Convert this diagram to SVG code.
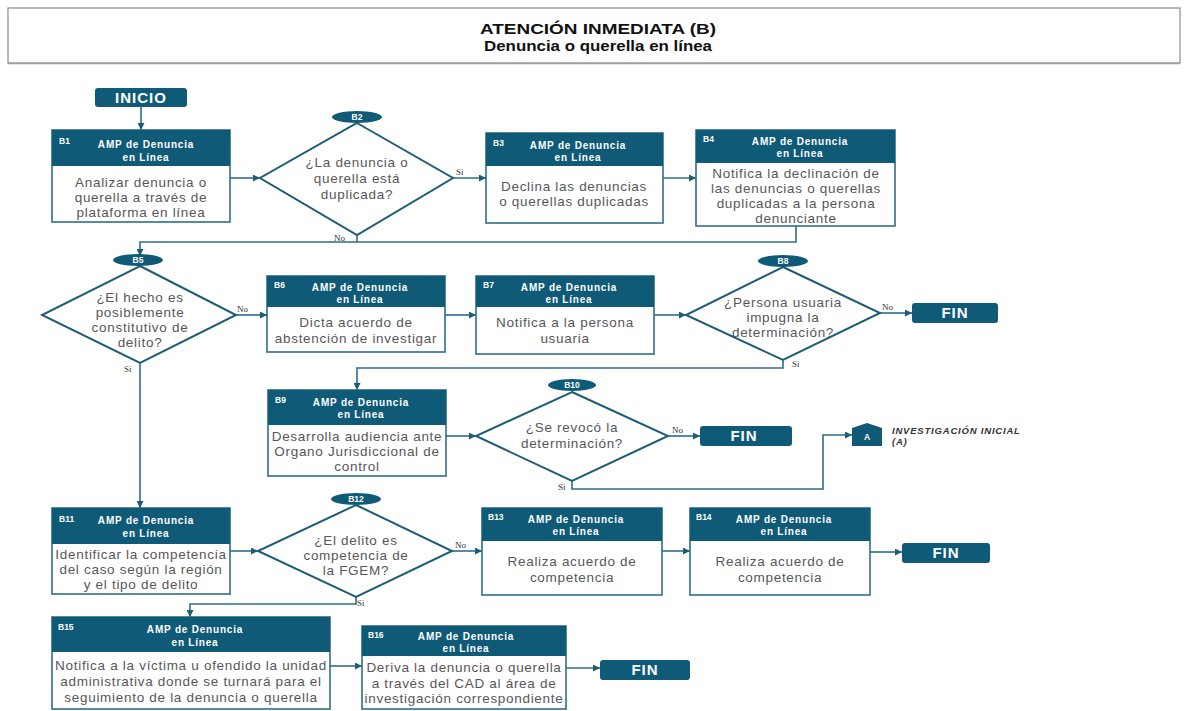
<svg xmlns="http://www.w3.org/2000/svg" width="1188" height="711" viewBox="0 0 1188 711">
<style>
.hdr{fill:#0f5a77}
.box{fill:#fff;stroke:#2f6e86;stroke-width:1.6}
.dia{fill:#fff;stroke:#1d5e76;stroke-width:2}
.term{fill:#0f5a77}
.id{font-family:"Liberation Sans",Arial,sans-serif;font-weight:bold;font-size:8.5px;fill:#fff}
.ht{font-family:"Liberation Sans",Arial,sans-serif;font-weight:bold;font-size:10px;letter-spacing:0.8px;fill:#fff;text-anchor:middle}
.bt{font-family:"Liberation Sans",Arial,sans-serif;font-size:13.5px;letter-spacing:0.7px;fill:#575757;text-anchor:middle}
.tt{font-family:"Liberation Sans",Arial,sans-serif;font-weight:bold;font-size:15px;letter-spacing:1px;fill:#fff;text-anchor:middle}
.lbl{font-family:"Liberation Serif","Times New Roman",serif;font-size:9px;fill:#333}
.conn path,.conn line{fill:none;stroke:#2f6e86;stroke-width:1.6}
.title{font-family:"Liberation Sans",Arial,sans-serif;font-weight:bold;font-size:15px;fill:#111;text-anchor:middle}
.ref{font-family:"Liberation Sans",Arial,sans-serif;font-weight:bold;font-style:italic;font-size:9.5px;letter-spacing:0.8px;fill:#333}
</style>
<defs>
<marker id="ar" viewBox="0 0 10 10" refX="10" refY="5" markerWidth="7" markerHeight="7" markerUnits="userSpaceOnUse" orient="auto">
<path d="M0,0 L10,5 L0,10 z" fill="#1d5e76"/>
</marker>
</defs>
<rect width="1188" height="711" fill="#fff"/>
<g id="title">
<rect x="8" y="8" width="1172" height="55" fill="#fff" stroke="#8a8a8a" stroke-width="1.2"/>
<line x1="8" y1="63.5" x2="1180" y2="63.5" stroke="#a0a0a0" stroke-width="1.5"/>
<text class="title" x="598" y="34" textLength="236" lengthAdjust="spacingAndGlyphs">ATENCIÓN INMEDIATA (B)</text>
<text class="title" x="598" y="51" textLength="228" lengthAdjust="spacingAndGlyphs">Denuncia o querella en línea</text>
</g>

<g class="conn" id="connectors">
<line x1="141" y1="106" x2="141" y2="130" marker-end="url(#ar)"/>
<line x1="230" y1="178" x2="260" y2="178" marker-end="url(#ar)"/>
<line x1="453" y1="178" x2="486" y2="178" marker-end="url(#ar)"/>
<line x1="663" y1="178" x2="696" y2="178" marker-end="url(#ar)"/>
<path d="M357,235 V242"/>
<path d="M796,226 V242 H140 V256" marker-end="url(#ar)"/>
<line x1="236" y1="315" x2="267" y2="315" marker-end="url(#ar)"/>
<path d="M140,363 V508" marker-end="url(#ar)"/>
<line x1="445" y1="315" x2="476" y2="315" marker-end="url(#ar)"/>
<line x1="654" y1="315" x2="686" y2="315" marker-end="url(#ar)"/>
<line x1="880" y1="313" x2="912" y2="313" marker-end="url(#ar)"/>
<path d="M783,360 V368 H357 V390" marker-end="url(#ar)"/>
<line x1="446" y1="436" x2="476" y2="436" marker-end="url(#ar)"/>
<line x1="668" y1="436" x2="700" y2="436" marker-end="url(#ar)"/>
<path d="M572,481 V489 H823 V435 H852" marker-end="url(#ar)"/>
<line x1="230" y1="551" x2="258" y2="551" marker-end="url(#ar)"/>
<line x1="452" y1="551" x2="482" y2="551" marker-end="url(#ar)"/>
<line x1="662" y1="551" x2="690" y2="551" marker-end="url(#ar)"/>
<line x1="870" y1="552" x2="902" y2="552" marker-end="url(#ar)"/>
<path d="M356,597 V604 H190 V617" marker-end="url(#ar)"/>
<line x1="330" y1="666" x2="362" y2="666" marker-end="url(#ar)"/>
<line x1="566" y1="668" x2="600" y2="668" marker-end="url(#ar)"/>
<text class="lbl" x="456" y="175">Si</text>
<text class="lbl" x="334" y="241">No</text>
<text class="lbl" x="237" y="312">No</text>
<text class="lbl" x="124" y="372">Si</text>
<text class="lbl" x="882" y="310">No</text>
<text class="lbl" x="792" y="367">Si</text>
<text class="lbl" x="672" y="433">No</text>
<text class="lbl" x="558" y="490">Si</text>
<text class="lbl" x="455" y="548">No</text>
<text class="lbl" x="357" y="606">Si</text>
</g>

<g id="inicio">
<rect class="term" x="95" y="88" width="92" height="19" rx="3"/>
<text class="tt" x="141" y="103">INICIO</text>
</g>

<g id="B1">
<rect class="box" x="52" y="130" width="178" height="92"/>
<rect class="hdr" x="52" y="130" width="178" height="36"/>
<text class="id" x="59" y="144">B1</text>
<text class="ht" x="146" y="148">AMP de Denuncia</text>
<text class="ht" x="146" y="161">en Línea</text>
<text class="bt" x="141" y="187">Analizar denuncia o</text>
<text class="bt" x="141" y="202">querella a través de</text>
<text class="bt" x="141" y="217">plataforma en línea</text>
</g>

<g id="B2">
<polygon class="dia" points="357,123 453,178 357,235 260,178"/>
<ellipse class="term" cx="357" cy="117" rx="25" ry="6"/>
<text class="id" x="357" y="120" text-anchor="middle">B2</text>
<text class="bt" x="357" y="167">¿La denuncia o</text>
<text class="bt" x="357" y="183">querella está</text>
<text class="bt" x="357" y="199">duplicada?</text>
</g>

<g id="B3">
<rect class="box" x="486" y="133" width="177" height="90"/>
<rect class="hdr" x="486" y="133" width="177" height="33"/>
<text class="id" x="493" y="146">B3</text>
<text class="ht" x="578" y="149">AMP de Denuncia</text>
<text class="ht" x="578" y="161">en Línea</text>
<text class="bt" x="574" y="191">Declina las denuncias</text>
<text class="bt" x="574" y="206">o querellas duplicadas</text>
</g>

<g id="B4">
<rect class="box" x="696" y="130" width="199" height="96"/>
<rect class="hdr" x="696" y="130" width="199" height="33"/>
<text class="id" x="703" y="142">B4</text>
<text class="ht" x="800" y="145">AMP de Denuncia</text>
<text class="ht" x="800" y="157">en Línea</text>
<text class="bt" x="796" y="178">Notifica la declinación de</text>
<text class="bt" x="796" y="193">las denuncias o querellas</text>
<text class="bt" x="796" y="208">duplicadas a la persona</text>
<text class="bt" x="796" y="223">denunciante</text>
</g>

<g id="B5">
<polygon class="dia" points="140,266 236,315 140,363 42,315"/>
<ellipse class="term" cx="138" cy="260" rx="25" ry="6"/>
<text class="id" x="138" y="263" text-anchor="middle">B5</text>
<text class="bt" x="140" y="302">¿El hecho es</text>
<text class="bt" x="140" y="317">posiblemente</text>
<text class="bt" x="140" y="332">constitutivo de</text>
<text class="bt" x="140" y="347">delito?</text>
</g>

<g id="B6">
<rect class="box" x="267" y="276" width="178" height="76"/>
<rect class="hdr" x="267" y="276" width="178" height="31"/>
<text class="id" x="274" y="288">B6</text>
<text class="ht" x="360" y="291">AMP de Denuncia</text>
<text class="ht" x="360" y="303">en Línea</text>
<text class="bt" x="356" y="327">Dicta acuerdo de</text>
<text class="bt" x="356" y="343">abstención de investigar</text>
</g>

<g id="B7">
<rect class="box" x="476" y="276" width="178" height="78"/>
<rect class="hdr" x="476" y="276" width="178" height="31"/>
<text class="id" x="483" y="288">B7</text>
<text class="ht" x="569" y="291">AMP de Denuncia</text>
<text class="ht" x="569" y="303">en Línea</text>
<text class="bt" x="565" y="327">Notifica a la persona</text>
<text class="bt" x="565" y="343">usuaria</text>
</g>

<g id="B8">
<polygon class="dia" points="783,267 880,313 783,360 686,315"/>
<ellipse class="term" cx="783" cy="261" rx="25" ry="6"/>
<text class="id" x="783" y="264" text-anchor="middle">B8</text>
<text class="bt" x="783" y="307">¿Persona usuaria</text>
<text class="bt" x="783" y="322">impugna la</text>
<text class="bt" x="783" y="337">determinación?</text>
</g>

<g id="fin1">
<rect class="term" x="912" y="303" width="86" height="20" rx="3"/>
<text class="tt" x="955" y="318">FIN</text>
</g>

<g id="B9">
<rect class="box" x="268" y="390" width="178" height="86"/>
<rect class="hdr" x="268" y="390" width="178" height="35"/>
<text class="id" x="275" y="403">B9</text>
<text class="ht" x="361" y="406">AMP de Denuncia</text>
<text class="ht" x="361" y="418">en Línea</text>
<text class="bt" x="357" y="441">Desarrolla audiencia ante</text>
<text class="bt" x="357" y="456">Organo Jurisdiccional de</text>
<text class="bt" x="357" y="471">control</text>
</g>

<g id="B10">
<polygon class="dia" points="572,392 668,436 572,481 476,436"/>
<ellipse class="term" cx="572" cy="385" rx="24" ry="6"/>
<text class="id" x="572" y="388" text-anchor="middle">B10</text>
<text class="bt" x="572" y="432">¿Se revocó la</text>
<text class="bt" x="572" y="448">determinación?</text>
</g>

<g id="fin2">
<rect class="term" x="700" y="426" width="92" height="20" rx="3"/>
<text class="tt" x="744" y="441">FIN</text>
</g>

<g id="A">
<polygon class="term" points="852,428 867,423 882,428 882,446 852,446"/>
<text class="id" x="867" y="440" text-anchor="middle">A</text>
<text class="ref" x="892" y="434">INVESTIGACIÓN INICIAL</text>
<text class="ref" x="892" y="445">(A)</text>
</g>

<g id="B11">
<rect class="box" x="52" y="508" width="178" height="86"/>
<rect class="hdr" x="52" y="508" width="178" height="36"/>
<text class="id" x="59" y="522">B11</text>
<text class="ht" x="146" y="524">AMP de Denuncia</text>
<text class="ht" x="146" y="537">en Línea</text>
<text class="bt" x="141" y="559">Identificar la competencia</text>
<text class="bt" x="141" y="574">del caso según la región</text>
<text class="bt" x="141" y="589">y el tipo de delito</text>
</g>

<g id="B12">
<polygon class="dia" points="356,505 452,551 356,597 258,551"/>
<ellipse class="term" cx="356" cy="499" rx="25" ry="6"/>
<text class="id" x="356" y="502" text-anchor="middle">B12</text>
<text class="bt" x="356" y="545">¿El delito es</text>
<text class="bt" x="356" y="560">competencia de</text>
<text class="bt" x="356" y="575">la FGEM?</text>
</g>

<g id="B13">
<rect class="box" x="482" y="508" width="180" height="87"/>
<rect class="hdr" x="482" y="508" width="180" height="33"/>
<text class="id" x="488" y="520">B13</text>
<text class="ht" x="576" y="523">AMP de Denuncia</text>
<text class="ht" x="576" y="535">en Línea</text>
<text class="bt" x="572" y="566">Realiza acuerdo de</text>
<text class="bt" x="572" y="582">competencia</text>
</g>

<g id="B14">
<rect class="box" x="690" y="508" width="180" height="87"/>
<rect class="hdr" x="690" y="508" width="180" height="33"/>
<text class="id" x="696" y="520">B14</text>
<text class="ht" x="784" y="523">AMP de Denuncia</text>
<text class="ht" x="784" y="535">en Línea</text>
<text class="bt" x="780" y="566">Realiza acuerdo de</text>
<text class="bt" x="780" y="582">competencia</text>
</g>

<g id="fin3">
<rect class="term" x="902" y="543" width="88" height="20" rx="3"/>
<text class="tt" x="946" y="558">FIN</text>
</g>

<g id="B15">
<rect class="box" x="52" y="617" width="278" height="92"/>
<rect class="hdr" x="52" y="617" width="278" height="35"/>
<text class="id" x="58" y="630">B15</text>
<text class="ht" x="195" y="633">AMP de Denuncia</text>
<text class="ht" x="195" y="646">en Línea</text>
<text class="bt" x="191" y="670">Notifica a la víctima u ofendido la unidad</text>
<text class="bt" x="191" y="686">administrativa donde se turnará para el</text>
<text class="bt" x="191" y="702">seguimiento de la denuncia o querella</text>
</g>

<g id="B16">
<rect class="box" x="362" y="626" width="204" height="83"/>
<rect class="hdr" x="362" y="626" width="204" height="30"/>
<text class="id" x="368" y="638">B16</text>
<text class="ht" x="466" y="640">AMP de Denuncia</text>
<text class="ht" x="466" y="652">en Línea</text>
<text class="bt" x="464" y="672">Deriva la denuncia o querella</text>
<text class="bt" x="464" y="688">a través del CAD al área de</text>
<text class="bt" x="464" y="703">investigación correspondiente</text>
</g>

<g id="fin4">
<rect class="term" x="600" y="660" width="90" height="20" rx="3"/>
<text class="tt" x="645" y="675">FIN</text>
</g>
</svg>
